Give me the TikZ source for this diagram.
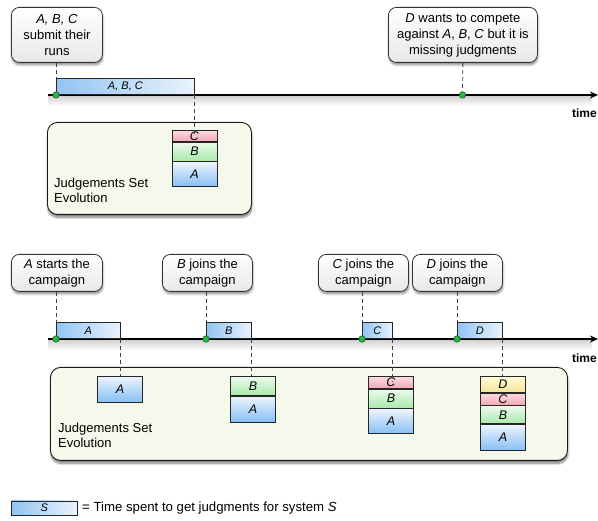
\documentclass[tikz,border=0pt]{standalone}
\usepackage{fontspec}
\setmainfont{Liberation Sans}
\usetikzlibrary{shadows,shadows.blur,arrows.meta}
\definecolor{bluedark}{HTML}{92C4F3}
\definecolor{bluelight}{HTML}{EAF3FD}
\definecolor{atop}{HTML}{EEF5FD}
\definecolor{abot}{HTML}{86BFF4}
\definecolor{btop}{HTML}{EEFBEE}
\definecolor{bbot}{HTML}{A9E9A9}
\definecolor{ctop}{HTML}{FCDCE2}
\definecolor{cbot}{HTML}{F4A7B5}
\definecolor{dtop}{HTML}{FFFBD8}
\definecolor{dbot}{HTML}{F5E39A}
\definecolor{jfill}{HTML}{F5F9EB}
\definecolor{dotgreen}{HTML}{1FBF3F}
\begin{document}
\begin{tikzpicture}[x=1pt,y=-1pt,
  callout/.style={draw=black!80, line width=0.8pt, rounded corners=8pt, top color=white, bottom color=black!9,
    align=center, font=\fontsize{13}{16}\selectfont, inner sep=0pt, anchor=north west,
    blur shadow={shadow xshift=0.5pt, shadow yshift=-2.5pt, shadow blur steps=6, shadow opacity=45}},
  bar/.style={draw=black!85, line width=0.8pt, left color=bluedark, right color=bluelight,
    font=\fontsize{11}{11}\selectfont\itshape, inner sep=0pt, anchor=south west, minimum height=16pt},
  dot/.style={circle, fill=dotgreen, draw=black!80, line width=0.5pt, inner sep=0pt, minimum size=6.5pt},
  dashline/.style={dash pattern=on 4pt off 3pt, line width=0.8pt, black!75},
  timeline/.style={line width=1.4pt, -{Stealth[length=8pt,width=7pt]}},
  tshadow/.style={top color=black!18, bottom color=white, draw=none},
  jbox/.style={draw=black!90, line width=0.9pt, rounded corners=10pt, fill=jfill, anchor=north west, inner sep=0pt,
    blur shadow={shadow xshift=0.5pt, shadow yshift=-3pt, shadow blur steps=6, shadow opacity=50}},
  jlabel/.style={align=left, anchor=west, font=\fontsize{13}{15}\selectfont, inner sep=0pt},
  cell/.style={draw=black!85, line width=0.7pt, minimum width=45pt, inner sep=0pt, font=\fontsize{12.5}{12.5}\selectfont\itshape},
  cellA/.style={cell, top color=atop, bottom color=abot},
  cellB/.style={cell, top color=btop, bottom color=bbot},
  cellC/.style={cell, top color=ctop, bottom color=cbot},
  cellD/.style={cell, top color=dtop, bottom color=dbot},
  timelabel/.style={font=\fontsize{12}{12}\selectfont\bfseries, anchor=east, inner sep=0pt}
]
\useasboundingbox (0,0) rectangle (598,521);

% ---------------- top section ----------------
\coordinate (t1s) at (48,95);
\coordinate (t1e) at (598,95);
\fill[tshadow] (48,96) rectangle (592,106);
\draw[timeline] (t1s) -- (t1e);
\node[timelabel] (time1) at (597,113) {time};

\node[callout, minimum width=91pt, minimum height=55pt] (c1) at (11,7) {\textit{A, B, C}\\submit their\\runs};
\node[callout, minimum width=149pt, minimum height=55pt] (c2) at (388,7) {\textit{D} wants to compete\\against \textit{A}, \textit{B}, \textit{C} but it is\\missing judgments};

\node[bar, minimum width=138pt] (b1) at (56,95) {A, B, C};
\node[dot] (d1) at (56,95) {};
\node[dot] (d2) at (462.5,95) {};
\draw[dashline] (c1.south -| b1.south west) -- (b1.north west);
\draw[dashline] (c2.south) -- (d2.north);

\node[jbox, minimum width=204pt, minimum height=92pt] (j1) at (47,122) {};
\node[jlabel] (jl1) at (54,190) {Judgements Set\\Evolution};

\node[cellA, minimum height=25pt, anchor=south] (s1a) at (194.5,187) {A};
\node[cellB, minimum height=19pt, anchor=south] (s1b) at (s1a.north) {B};
\node[cellC, minimum height=11pt, anchor=south] (s1c) at (s1b.north) {C};
\draw[dashline] (b1.south east) -- (b1.south east |- s1c.center);

% ---------------- bottom section ----------------
\coordinate (t2s) at (48,339);
\coordinate (t2e) at (598,339);
\fill[tshadow] (48,340) rectangle (592,350);
\draw[timeline] (t2s) -- (t2e);
\node[timelabel] (time2) at (597,358) {time};

\node[callout, minimum width=91pt, minimum height=37pt] (c3) at (11,254) {\textit{A} starts the\\campaign};
\node[callout, minimum width=90pt, minimum height=37pt] (c4) at (162,254) {\textit{B} joins the\\campaign};
\node[callout, minimum width=90pt, minimum height=37pt] (c5) at (318,254) {\textit{C} joins the\\campaign};
\node[callout, minimum width=90pt, minimum height=37pt] (c6) at (412,254) {\textit{D} joins the\\campaign};

\node[bar, minimum width=64pt] (bA) at (56,339) {A};
\node[bar, minimum width=45pt] (bB) at (206,339) {B};
\node[bar, minimum width=30pt] (bC) at (362,339) {C};
\node[bar, minimum width=45pt] (bD) at (457,339) {D};
\node[dot] (dA) at (56,339) {};
\node[dot] (dB) at (206,339) {};
\node[dot] (dC) at (362,339) {};
\node[dot] (dD) at (457,339) {};
\draw[dashline] (c3.south -| bA.south west) -- (bA.north west);
\draw[dashline] (c4.south -| bB.south west) -- (bB.north west);
\draw[dashline] (c5.south -| bC.south west) -- (bC.north west);
\draw[dashline] (c6.south -| bD.south west) -- (bD.north west);

\node[jbox, minimum width=517pt, minimum height=93pt] (j2) at (50,367) {};
\node[jlabel] (jl2) at (58,435) {Judgements Set\\Evolution};

% stack 1
\node[cellA, minimum height=26pt, anchor=north] (sA1) at (120,376) {A};
% stack 2
\node[cellB, minimum height=19pt, anchor=north] (sB2) at (253,376) {B};
\node[cellA, minimum height=26pt, anchor=north] (sA2) at (sB2.south) {A};
% stack 3
\node[cellC, minimum height=12pt, anchor=north] (sC3) at (391,376) {C};
\node[cellB, minimum height=19pt, anchor=north] (sB3) at (sC3.south) {B};
\node[cellA, minimum height=25pt, anchor=north] (sA3) at (sB3.south) {A};
% stack 4
\node[cellD, minimum height=16pt, anchor=north] (sD4) at (503,376) {D};
\node[cellC, minimum height=12pt, anchor=north] (sC4) at (sD4.south) {C};
\node[cellB, minimum height=18pt, anchor=north] (sB4) at (sC4.south) {B};
\node[cellA, minimum height=26pt, anchor=north] (sA4) at (sB4.south) {A};

\draw[dashline] (bA.south east) -- (bA.south east |- sA1.north);
\draw[dashline] (bB.south east) -- (bB.south east |- sB2.north);
\draw[dashline] (bC.south east) -- (bC.south east |- sC3.center);
\draw[dashline] (bD.south east) -- (bD.south east |- sD4.north);

% ---------------- legend ----------------
\node[bar, minimum width=66pt, minimum height=14pt, anchor=west] (lg) at (11,508) {S};
\node[anchor=west, inner sep=0pt, font=\fontsize{13.2}{13.2}\selectfont] (lgt) at (82,508) {= Time spent to get judgments for system \textit{S}};
\end{tikzpicture}
\end{document}
